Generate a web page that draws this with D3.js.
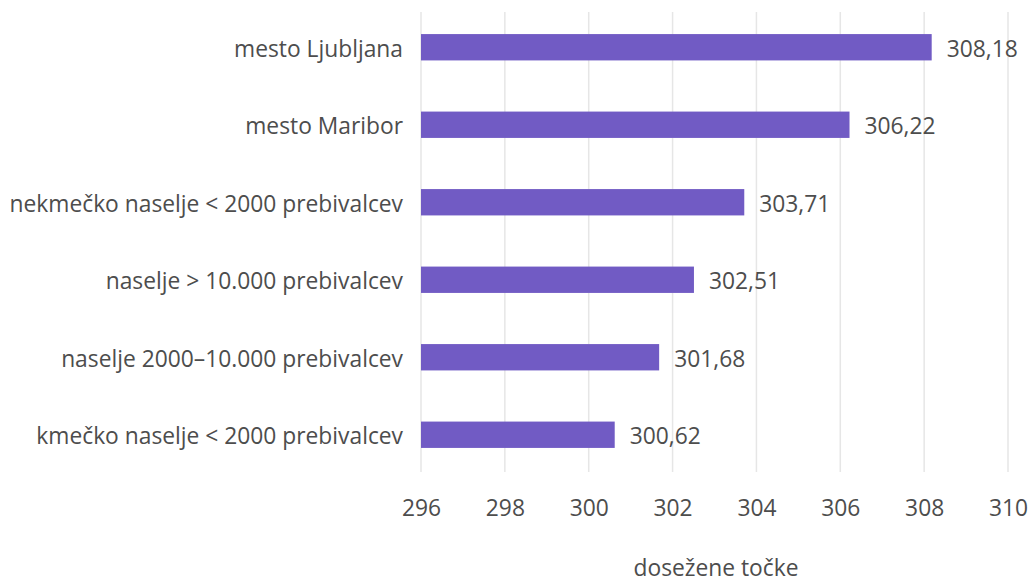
<!DOCTYPE html>
<html><head><meta charset="utf-8">
<script src="https://cdn.jsdelivr.net/npm/d3@7"></script>
<style>body{margin:0;background:#fff}svg{display:block}text{font-family:"Open Sans",sans-serif;fill:#4d4d4d}</style>
</head><body><svg id="c" width="1029" height="578"></svg>
<script>
const categories = ["mesto Ljubljana","mesto Maribor","nekmečko naselje < 2000 prebivalcev","naselje > 10.000 prebivalcev","naselje 2000–10.000 prebivalcev","kmečko naselje < 2000 prebivalcev"];
const values = [308.18,306.22,303.71,302.51,301.68,300.62];
const tickValues = [296,298,300,302,304,306,308,310];
const axisTitle = "dosežene točke";

const FS = 22.8;
const svg = d3.select("#c");
const x = d3.scaleLinear().domain([296,310]).range([421,1008]);
const y = d3.scaleBand().domain(categories).range([8.5,473.5]).paddingInner(0.66).paddingOuter(0.33);
const fmt = v => v.toFixed(2).replace(".", ",");

svg.append("g").selectAll("line").data(tickValues).join("line")
  .attr("x1",d=>x(d)).attr("x2",d=>x(d)).attr("y1",12).attr("y2",472)
  .attr("stroke","#e6e6e6").attr("stroke-width",1.5);

svg.append("g").selectAll("rect").data(values).join("rect")
  .attr("x",x(296)).attr("y",(d,i)=>y(categories[i]))
  .attr("width",d=>x(d)-x(296)).attr("height",y.bandwidth())
  .attr("fill","#715BC4");

svg.append("g").selectAll("text").data(values).join("text")
  .attr("x",d=>x(d)+15).attr("y",(d,i)=>y(categories[i])+y.bandwidth()/2+9.5)
  .attr("font-size",FS).text(fmt);

svg.append("g").selectAll("text").data(categories).join("text")
  .attr("x",403).attr("y",d=>y(d)+y.bandwidth()/2+9.5)
  .attr("text-anchor","end").attr("font-size",FS).text(d=>d);

const ax = d3.axisBottom(x).tickValues(tickValues).tickSize(0).tickPadding(0).tickFormat(d=>d);
const g = svg.append("g").attr("transform","translate(0,516)").call(ax);
g.select(".domain").remove();
g.selectAll("text").attr("font-size",FS).attr("dy",0).attr("y",0).attr("fill","#4d4d4d").attr("font-family","Open Sans");

svg.append("text").attr("x",716).attr("y",575.5).attr("text-anchor","middle")
  .attr("font-size",FS).text(axisTitle);
</script></body></html>
